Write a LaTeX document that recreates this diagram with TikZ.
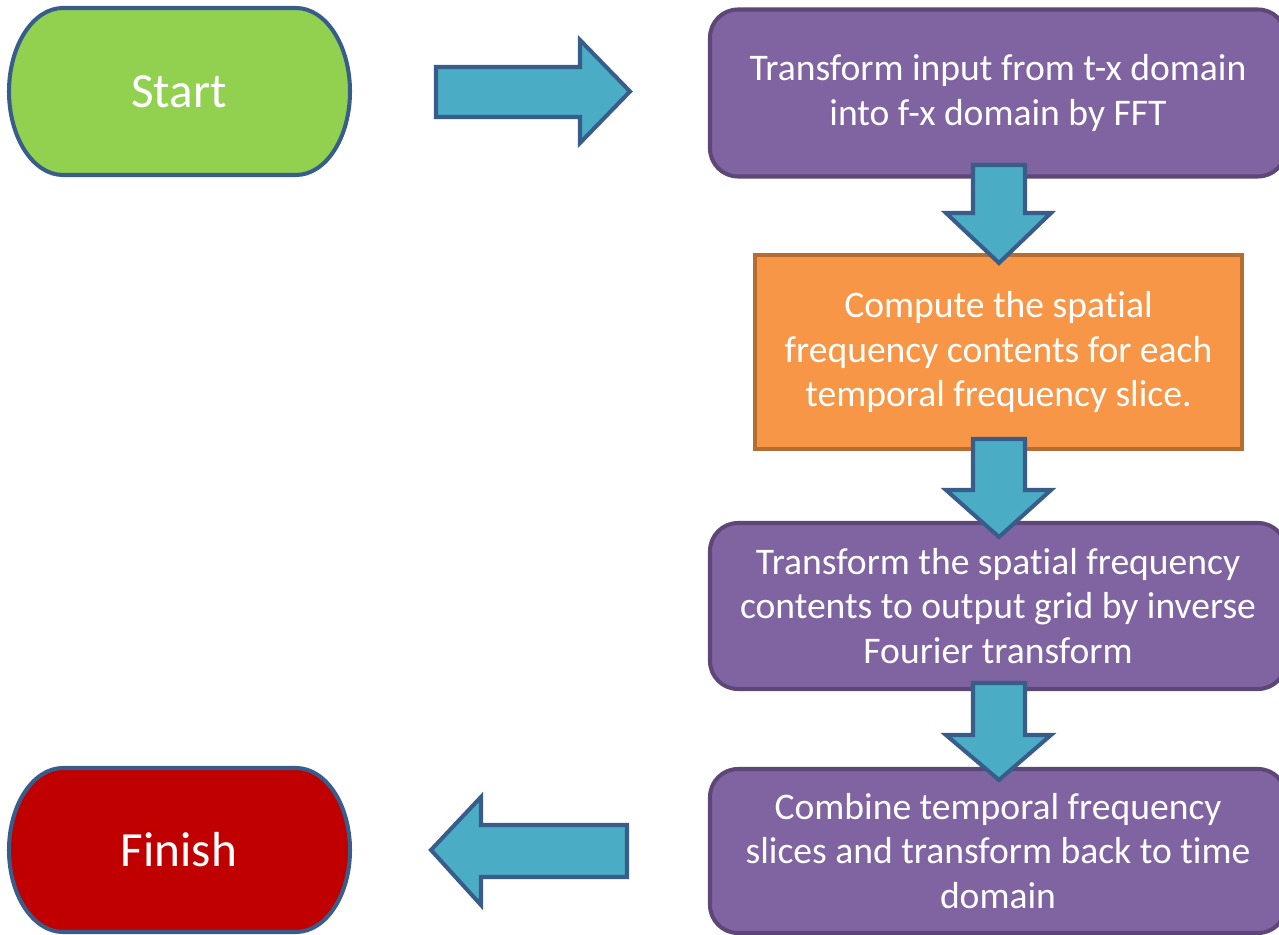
\documentclass[tikz,border=0pt]{standalone}
\usepackage{fontspec}
\setmainfont{Carlito}[RawFeature={-liga;-clig;-calt}]
\definecolor{startgreen}{HTML}{92D050}
\definecolor{finishred}{HTML}{C00000}
\definecolor{steppurple}{HTML}{8064A2}
\definecolor{steppurpleline}{HTML}{5C4776}
\definecolor{steporange}{HTML}{F79646}
\definecolor{steporangeline}{HTML}{B66D31}
\definecolor{arrowcyan}{HTML}{4BACC6}
\definecolor{darkblueline}{HTML}{385D8A}
\tikzset{
  terminal/.style={draw=darkblueline, line width=2.3pt},
  termtext/.style={text=white, font=\fontsize{28}{34}\selectfont},
  stepbox/.style={rectangle, draw=steppurpleline, fill=steppurple, line width=2.3pt,
    rounded corners=0.56cm, text=white, align=center,
    font=\fontsize{21.4}{25.5}\selectfont},
  squarebox/.style={rectangle, draw=steporangeline, fill=steporange, line width=2.3pt,
    text=white, align=center, font=\fontsize{21.4}{25.5}\selectfont},
  blockarrow/.style={draw=darkblueline, fill=arrowcyan, line width=2.3pt, line join=miter}
}
\begin{document}
\begin{tikzpicture}[x=0.02cm, y=0.02cm]
  \useasboundingbox (0,0) rectangle (1279,934);
  % terminals
  \draw[terminal, fill=startgreen] (63,926) -- (296,926)
    arc[start angle=90, end angle=-90, x radius=54, y radius=83.5]
    -- (63,759) arc[start angle=270, end angle=90, x radius=54, y radius=83.5] -- cycle;
  \node[termtext] (start) at (179,842.5) {Start};
  \draw[terminal, fill=finishred] (63,166) -- (296,166)
    arc[start angle=90, end angle=-90, x radius=54, y radius=82]
    -- (63,2) arc[start angle=270, end angle=90, x radius=54, y radius=82] -- cycle;
  \node[termtext] (finish) at (179,84) {Finish};
  % process steps
  \node[stepbox, minimum width=576*0.02cm, minimum height=167*0.02cm] (fft) at (998,841)
    {Transform input from t-x domain\\into f-x domain by FFT};
  \node[squarebox, minimum width=487*0.02cm, minimum height=194*0.02cm] (spatial) at (998.5,582)
    {Compute the spatial\\frequency contents for each\\temporal frequency slice.};
  \node[stepbox, minimum width=576*0.02cm, minimum height=166*0.02cm] (inverse) at (998,328)
    {Transform the spatial frequency\\contents to output grid by inverse\\Fourier transform};
  \node[stepbox, minimum width=576*0.02cm, minimum height=164*0.02cm] (combine) at (998,83)
    {Combine temporal frequency\\slices and transform back to time\\domain};
  % block arrows
  \draw[blockarrow] (436,867) -- (580,867) -- (580,894) -- (630,842.5)
    -- (580,791) -- (580,817) -- (436,817) -- cycle;
  \draw[blockarrow] (973,769) -- (1025,769) -- (1025,721) -- (1051,721) -- (999,671)
    -- (946,721) -- (973,721) -- cycle;
  \draw[blockarrow] (973,495) -- (1025,495) -- (1025,444) -- (1051,444) -- (999,397)
    -- (946,444) -- (973,444) -- cycle;
  \draw[blockarrow] (973,251) -- (1025,251) -- (1025,199) -- (1051,199) -- (999,154)
    -- (946,199) -- (973,199) -- cycle;
  \draw[blockarrow] (627,109) -- (481,109) -- (481,137) -- (431,84) -- (481,29)
    -- (481,57) -- (627,57) -- cycle;
\end{tikzpicture}
\end{document}
